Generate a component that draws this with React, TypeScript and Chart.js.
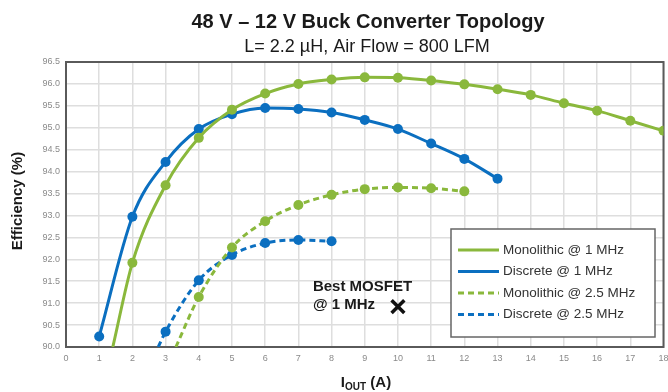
import React, { useEffect, useRef } from "react";
import { Chart, registerables } from "chart.js";

Chart.register(...registerables);

const title = "48 V \u2013 12 V Buck Converter Topology";
const subtitle = "L= 2.2 \u00b5H, Air Flow = 800 LFM";
const yTitle = "Efficiency (%)";
const annotationLines = ["Best MOSFET", "@ 1 MHz"];

const mono1X = [1.41, 2, 3, 4, 5, 6, 7, 8, 9, 10, 11, 12, 13, 14, 15, 16, 17, 18];
const mono1Y = [90.0, 91.92, 93.69, 94.77, 95.41, 95.78, 96.0, 96.1, 96.15, 96.14, 96.08, 95.99, 95.88, 95.75, 95.56, 95.39, 95.16, 94.93];

const disc1X = [1, 2, 3, 4, 5, 6, 7, 8, 9, 10, 11, 12, 13];
const disc1Y = [90.24, 92.97, 94.22, 94.97, 95.31, 95.45, 95.43, 95.35, 95.18, 94.97, 94.64, 94.29, 93.84];

const mono25X = [3.31, 4, 5, 6, 7, 8, 9, 10, 11, 12];
const mono25Y = [90.0, 91.14, 92.27, 92.87, 93.24, 93.47, 93.6, 93.64, 93.62, 93.55];

const disc25X = [2.78, 3, 4, 5, 6, 7, 8];
const disc25Y = [90.0, 90.35, 91.52, 92.1, 92.37, 92.44, 92.41];

const bestX = [10];
const bestY = [90.92];

const labels = ["Monolithic @ 1 MHz", "Discrete @ 1 MHz", "Monolithic @ 2.5 MHz", "Discrete @ 2.5 MHz"];

const GREEN = "#8ab83c";
const BLUE = "#0b6fc0";

const pts = (xs: number[], ys: number[]) => xs.map((x, i) => ({ x, y: ys[i] }));
const radii = (ys: number[]) => ys.map((y) => (y <= 90 ? 0 : 5));

function line(label: string, xs: number[], ys: number[], color: string, dashed: boolean) {
  return {
    label,
    data: pts(xs, ys),
    showLine: true,
    borderColor: color,
    backgroundColor: color,
    borderWidth: 3,
    borderDash: dashed ? [6, 4] : [],
    pointRadius: radii(ys),
    pointHoverRadius: radii(ys),
    pointBorderWidth: 0,
    cubicInterpolationMode: "monotone" as const,
  };
}

const FONT = "'Liberation Sans', Arial, sans-serif";
const NARROW = "'Liberation Sans Narrow', 'Arial Narrow', 'Liberation Sans', sans-serif";

const decorPlugin = {
  id: "decor",
  beforeDatasetsDraw(chart: any) {
    const { ctx, chartArea: a } = chart;
    ctx.save();
    ctx.strokeStyle = "#5a5a5a";
    ctx.lineWidth = 2;
    ctx.strokeRect(a.left, a.top, a.right - a.left, a.bottom - a.top);
    ctx.restore();
  },
  afterDraw(chart: any) {
    const { ctx } = chart;
    const xs = chart.scales.x;
    const ys = chart.scales.y;
    ctx.save();
    ctx.fillStyle = "#1a1a1a";
    ctx.textAlign = "center";
    ctx.textBaseline = "middle";
    ctx.font = `bold 20px ${FONT}`;
    ctx.fillText(title, 368, 22);
    ctx.font = `18px ${FONT}`;
    ctx.fillText(subtitle, 367, 47);

    ctx.save();
    ctx.translate(18, 201);
    ctx.rotate(-Math.PI / 2);
    ctx.font = `bold 15px ${FONT}`;
    ctx.fillText(yTitle, 0, 0);
    ctx.restore();

    ctx.font = `bold 15px ${FONT}`;
    const p1 = "I";
    const p3 = " (A)";
    const subFont = `bold 10px ${FONT}`;
    const w1 = ctx.measureText(p1).width;
    const w3 = ctx.measureText(p3).width;
    ctx.font = subFont;
    const w2 = ctx.measureText("OUT").width;
    const total = w1 + w2 + w3;
    let cx = 366 - total / 2;
    const cy = 383;
    ctx.textAlign = "left";
    ctx.font = `bold 15px ${FONT}`;
    ctx.fillText(p1, cx, cy);
    cx += w1;
    ctx.font = subFont;
    ctx.fillText("OUT", cx, cy + 4);
    cx += w2;
    ctx.font = `bold 15px ${FONT}`;
    ctx.fillText(p3, cx, cy);

    const px = xs.getPixelForValue(bestX[0]);
    const py = ys.getPixelForValue(bestY[0]);
    ctx.font = `bold 15px ${FONT}`;
    ctx.fillStyle = "#1a1a1a";
    ctx.textBaseline = "middle";
    ctx.fillText(annotationLines[0], px - 85, py - 20);
    ctx.fillText(annotationLines[1], px - 85, py - 2);

    const lx = 451, ly = 229, lw = 204, lh = 108;
    ctx.fillStyle = "#ffffff";
    ctx.fillRect(lx, ly, lw, lh);
    ctx.strokeStyle = "#666";
    ctx.lineWidth = 1.5;
    ctx.strokeRect(lx, ly, lw, lh);
    const dsets = chart.data.datasets.slice(0, 4);
    ctx.font = `13.5px ${FONT}`;
    dsets.forEach((d: any, i: number) => {
      const yy = 250 + i * 21.5;
      ctx.strokeStyle = d.borderColor;
      ctx.lineWidth = 3;
      ctx.setLineDash(d.borderDash && d.borderDash.length ? [6, 4] : []);
      ctx.beginPath();
      ctx.moveTo(458, yy);
      ctx.lineTo(499, yy);
      ctx.stroke();
      ctx.setLineDash([]);
      ctx.fillStyle = "#333";
      ctx.textAlign = "left";
      ctx.fillText(d.label, 503, yy);
    });
    ctx.restore();
  },
};

export default function App() {
  const ref = useRef<HTMLCanvasElement | null>(null);
  useEffect(() => {
    document.body.style.margin = "0";
    document.body.style.overflow = "hidden";
    if (!ref.current) return;
    const chart = new Chart(ref.current, {
      type: "scatter",
      data: {
        datasets: [
          line(labels[0], mono1X, mono1Y, GREEN, false),
          line(labels[1], disc1X, disc1Y, BLUE, false),
          line(labels[2], mono25X, mono25Y, GREEN, true),
          line(labels[3], disc25X, disc25Y, BLUE, true),
          {
            label: "Best MOSFET @ 1 MHz",
            data: pts(bestX, bestY),
            showLine: false,
            pointStyle: "crossRot",
            pointRadius: 9,
            pointBorderWidth: 3.5,
            borderColor: "#111",
            backgroundColor: "#111",
          } as any,
        ] as any,
      },
      options: {
        animation: false,
        responsive: false,
        events: [],
        layout: { padding: { left: 0, right: 0, top: 62, bottom: 0 } },
        plugins: { legend: { display: false }, tooltip: { enabled: false }, title: { display: false } },
        scales: {
          x: {
            type: "linear",
            min: 0,
            max: 18,
            ticks: { stepSize: 1, color: "#8a8a8a", font: { size: 9, family: NARROW }, padding: 6, maxRotation: 0 },
            grid: { color: "#dedede", lineWidth: 1.5, drawTicks: false },
            border: { display: false },
            afterFit: (s: any) => {
              s.height = 45;
            },
          },
          y: {
            type: "linear",
            min: 90,
            max: 96.5,
            ticks: {
              stepSize: 0.5,
              color: "#8a8a8a",
              font: { size: 9, family: NARROW },
              padding: 6,
              callback: (v: any) => Number(v).toFixed(1),
            },
            grid: { color: "#dedede", lineWidth: 1.5, drawTicks: false },
            border: { display: false },
            afterFit: (s: any) => {
              s.width = 66;
            },
          },
        },
      } as any,
      plugins: [decorPlugin],
    });
    return () => chart.destroy();
  }, []);
  return (
    <div style={{ width: 668, height: 392, overflow: "hidden" }}>
      <canvas ref={ref} width={676} height={392} style={{ display: "block" }} />
    </div>
  );
}
